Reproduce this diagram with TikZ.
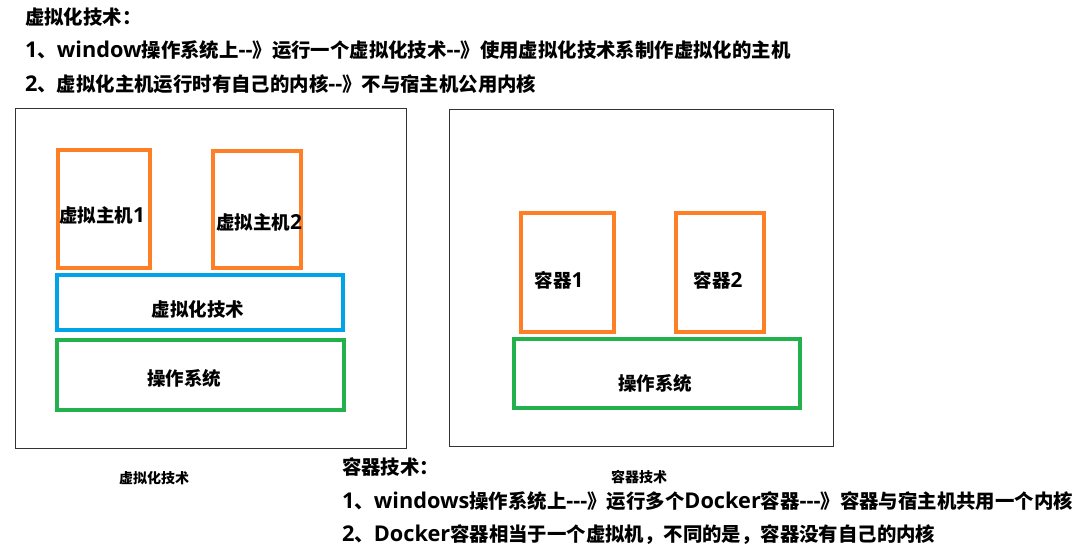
\documentclass[tikz,border=0pt]{standalone}
\usepackage{fontspec}
\setmainfont{Noto Sans CJK SC}[Ligatures=TeXOff]
\newfontfamily\latinfont{Open Sans}[Ligatures=TeXOff, Scale=1.12]
\newcommand{\lat}[1]{{\latinfont #1}}
\usetikzlibrary{positioning}
\definecolor{vmorange}{HTML}{FF7F27}
\definecolor{vmblue}{HTML}{00A2E8}
\definecolor{osgreen}{HTML}{22B14C}

\begin{document}
\begin{tikzpicture}[x=1pt,y=-1pt,
  every node/.style={inner sep=0pt, outer sep=0pt, font=\bfseries\fontsize{18.5}{20}\selectfont},
  frame/.style={draw=black!80, line width=1pt, rectangle},
  orangebox/.style={draw=vmorange, line width=4pt, rectangle},
  bluebox/.style={draw=vmblue, line width=4pt, rectangle},
  greenbox/.style={draw=osgreen, line width=4pt, rectangle},
  caption/.style={font=\bfseries\fontsize{14}{15}\selectfont},
  headline/.style={anchor=west, font=\bfseries\fontsize{19.4}{21}\selectfont}]
\useasboundingbox[fill=white] (0,0) rectangle (1076,555);

% virtualisation text
\node[headline] (vhead) at (25,17) {虚拟化技术：};
\node[headline] (vline1) at (25,50) {\lat{1}、\lat{window}操作系统上\lat{--}》运行一个虚拟化技术\lat{--}》使用虚拟化技术系制作虚拟化的主机};
\node[headline] (vline2) at (25,84) {\lat{2}、虚拟化主机运行时有自己的内核\lat{--}》不与宿主机公用内核};

% left picture
\node[frame, minimum width=391, minimum height=339.5] (vframe) at (211,278.25) {};
\node[orangebox, minimum width=92, minimum height=118] (vm1) at (104,209) {};
\node[orangebox, minimum width=88, minimum height=117] (vm2) at (257,209.5) {};
\node[bluebox, minimum width=286, minimum height=55] (vtech) at (200,302.5) {};
\node[greenbox, minimum width=287, minimum height=70] (vos) at (200.5,375) {};
\node (vm1label) at (102,215) {虚拟主机\lat{1}};
\node (vm2label) at (259,222) {虚拟主机\lat{2}};
\node (vtechlabel) at (198,309) {虚拟化技术};
\node (voslabel) at (184,378) {操作系统};
\node[caption] (vcaption) at (154,478) {虚拟化技术};

% right picture
\node[frame, minimum width=384, minimum height=337] (cframe) at (641.5,278) {};
\node[orangebox, minimum width=93.3, minimum height=119] (ct1) at (567.3,272.5) {};
\node[orangebox, minimum width=88, minimum height=119] (ct2) at (720.3,272.5) {};
\node[greenbox, minimum width=285.7, minimum height=69.6] (cos) at (656.8,373.5) {};
\node (ct1label) at (559,280) {容器\lat{1}};
\node (ct2label) at (718,280) {容器\lat{2}};
\node (coslabel) at (655,383) {操作系统};
\node[caption] (ccaption) at (639,477.5) {容器技术};

% container text
\node[headline] (chead) at (342,466.5) {容器技术：};
\node[headline] (cline1) at (342,501) {\lat{1}、\lat{windows}操作系统上\lat{---}》运行多个\lat{Docker}容器\lat{---}》容器与宿主机共用一个内核};
\node[headline] (cline2) at (342,535) {\lat{2}、\lat{Docker}容器相当于一个虚拟机，不同的是，容器没有自己的内核};
\end{tikzpicture}
\end{document}
